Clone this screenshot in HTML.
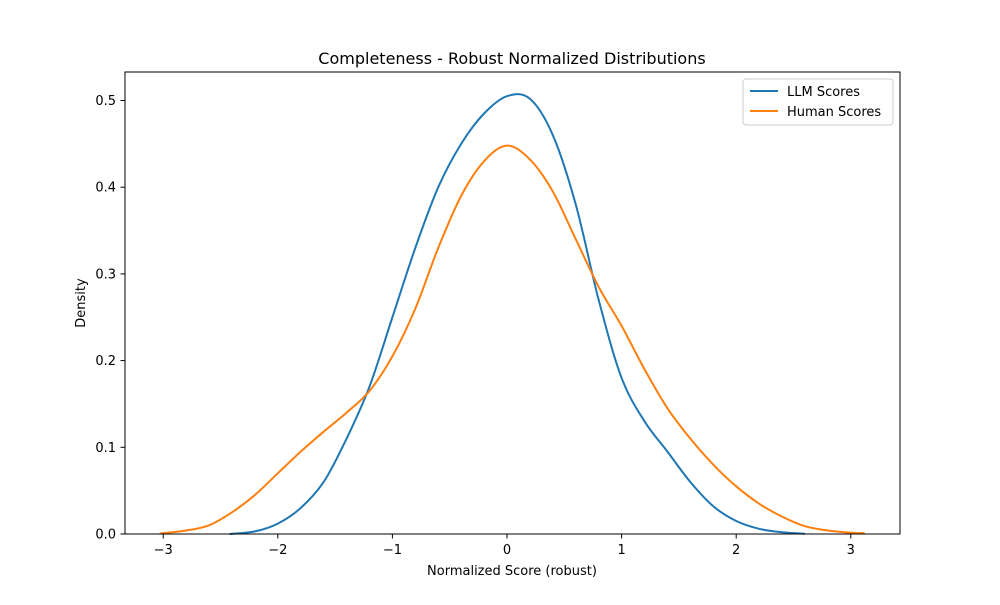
<!DOCTYPE html>
<html><head><meta charset="utf-8"><style>
body{margin:0;background:#fff;font-family:"Liberation Sans","DejaVu Sans",sans-serif;}
svg text{font-family:"DejaVu Sans","Liberation Sans",sans-serif;fill:#000;}
</style></head><body>
<svg id="chart" width="1000" height="600" viewBox="0 0 1000 600">
<rect width="1000" height="600" fill="#fff"/>
<text x="512" y="64" font-size="16" text-anchor="middle">Completeness - Robust Normalized Distributions</text>
<g id="xt"></g>
<g id="yt"></g>
<g id="series"></g>
<rect x="125" y="72" width="775" height="462" fill="none" stroke="#000" stroke-width="1"/>
<text x="512" y="575" font-size="13" text-anchor="middle">Normalized Score (robust)</text>
<text transform="translate(85,303) rotate(-90)" font-size="13" text-anchor="middle">Density</text>
<g>
<rect x="743" y="79" width="150" height="46" fill="#fff" stroke="#ccc" rx="3"/>
<line x1="750" y1="91" x2="778" y2="91" stroke="#1f77b4" stroke-width="2"/>
<text x="787" y="96" font-size="13">LLM Scores</text>
<line x1="750" y1="111" x2="778" y2="111" stroke="#ff7f0e" stroke-width="2"/>
<text x="787" y="116" font-size="13">Human Scores</text>
</g>
</svg>
<script>
const xTicks=[-3,-2,-1,0,1,2,3];
const yTicks=[0,0.1,0.2,0.3,0.4,0.5];
const llmX=[-2.42,-2.2,-2.0,-1.8,-1.6,-1.4,-1.2,-1.0,-0.8,-0.6,-0.4,-0.2,0,0.2,0.4,0.6,0.8,1.0,1.2,1.4,1.6,1.8,2.0,2.2,2.4,2.6];
const llmY=[0,0.003,0.012,0.03,0.06,0.11,0.17,0.25,0.33,0.40,0.45,0.485,0.505,0.502,0.46,0.38,0.27,0.18,0.13,0.095,0.06,0.032,0.015,0.006,0.002,0.0003];
const humX=[-3.03,-2.8,-2.6,-2.4,-2.2,-2.0,-1.8,-1.6,-1.4,-1.2,-1.0,-0.8,-0.6,-0.4,-0.2,0,0.2,0.4,0.6,0.8,1.0,1.2,1.4,1.6,1.8,2.0,2.2,2.4,2.6,2.8,3.0,3.12];
const humY=[0.0005,0.004,0.01,0.025,0.045,0.07,0.095,0.118,0.14,0.165,0.205,0.26,0.33,0.39,0.43,0.448,0.432,0.395,0.34,0.285,0.24,0.19,0.145,0.11,0.08,0.055,0.035,0.02,0.009,0.004,0.0015,0.001];
const NS="http://www.w3.org/2000/svg";
function sx(v){return 507+v*114.6;}
function sy(v){return 534-v*867;}
const xt=document.getElementById('xt'),yt=document.getElementById('yt'),sg=document.getElementById('series');
xTicks.forEach(t=>{
 const l=document.createElementNS(NS,'line');l.setAttribute('x1',sx(t));l.setAttribute('x2',sx(t));l.setAttribute('y1',534);l.setAttribute('y2',538.5);l.setAttribute('stroke','#000');
 
 xt.appendChild(l);
 const s=document.createElementNS(NS,'text');s.setAttribute('x',sx(t));s.setAttribute('y',554);s.setAttribute('font-size','13');s.setAttribute('text-anchor','middle');s.textContent=(t<0?'\u2212'+(-t):''+t);
 
 xt.appendChild(s);
});
yTicks.forEach(t=>{
 const l=document.createElementNS(NS,'line');l.setAttribute('x1',120.5);l.setAttribute('x2',125);l.setAttribute('y1',sy(t));l.setAttribute('y2',sy(t));l.setAttribute('stroke','#000');
 
 yt.appendChild(l);
 const s=document.createElementNS(NS,'text');s.setAttribute('x',116);s.setAttribute('y',sy(t)+4.5);s.setAttribute('font-size','13');s.setAttribute('text-anchor','end');s.textContent=t.toFixed(1);
 
 yt.appendChild(s);
});
function path(xs,ys){
 const p=xs.map((x,i)=>[sx(x),sy(ys[i])]);
 let d='M'+p[0][0]+','+p[0][1];
 for(let i=0;i<p.length-1;i++){
  const p0=p[i-1]||p[i],p1=p[i],p2=p[i+1],p3=p[i+2]||p2;
  const c1=[p1[0]+(p2[0]-p0[0])/6,p1[1]+(p2[1]-p0[1])/6];
  const c2=[p2[0]-(p3[0]-p1[0])/6,p2[1]-(p3[1]-p1[1])/6];
  d+=' C'+c1+' '+c2+' '+p2;
 }
 return d;
}
const a=document.createElementNS(NS,'path');a.setAttribute('d',path(llmX,llmY));a.setAttribute('fill','none');a.setAttribute('stroke','#1f77b4');a.setAttribute('stroke-width','2');

sg.appendChild(a);
const b=document.createElementNS(NS,'path');b.setAttribute('d',path(humX,humY));b.setAttribute('fill','none');b.setAttribute('stroke','#ff7f0e');b.setAttribute('stroke-width','2');

sg.appendChild(b);
</script>
</body></html>
